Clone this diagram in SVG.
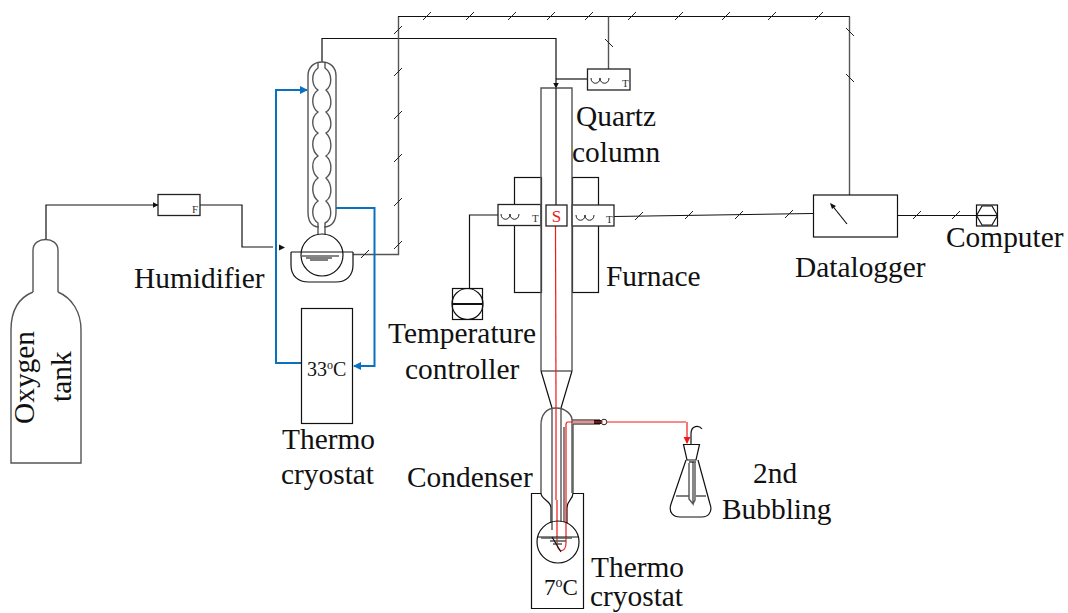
<svg xmlns="http://www.w3.org/2000/svg" width="1068" height="613" viewBox="0 0 1068 613">
<style>
text{font-family:"Liberation Serif","Times New Roman",serif;fill:#111}
.l{font-size:29.400px}
.s{font-size:11px;fill:#333}
.m{font-size:20px}
.k{fill:none;stroke:#111;stroke-width:1.2}
.g{fill:none;stroke:#555;stroke-width:1.4}
.b{fill:none;stroke:#0a70c0;stroke-width:2}
.r{fill:none;stroke:#f01818;stroke-width:1.2}
.t{stroke:#222;stroke-width:1;fill:none}
.w{fill:#fff;stroke:#222;stroke-width:1.3}
</style>
<defs>
<marker id="ab" viewBox="0 0 6 6" refX="5.500" refY="3" markerWidth="6" markerHeight="6" orient="auto" markerUnits="userSpaceOnUse"><path d="M0 0L6 3L0 6z" fill="#111"/></marker>
<marker id="abl" viewBox="0 0 8 8" refX="7" refY="4" markerWidth="8" markerHeight="9" orient="auto" markerUnits="userSpaceOnUse"><path d="M0 0L8 4L0 8z" fill="#0a70c0"/></marker>
<marker id="ar" viewBox="0 0 8 8" refX="7" refY="4" markerWidth="7" markerHeight="8" orient="auto" markerUnits="userSpaceOnUse"><path d="M0 0L8 4L0 8z" fill="#f01818"/></marker>
<path id="tick" d="M-4 4L4 -4" class="t"/>
<path id="btick" d="M-4 -4L4 4" class="t"/>
<path id="coil" d="M-9 -1c0 7 9 7 9 0c0 7 9 7 9 0" fill="none" stroke="#222" stroke-width="1"/>
</defs>

<g id="connectors">
<path class="k" d="M46 239V205H158" marker-end="url(#ab)"/>
<path class="k" d="M200 205H242V247H273"/>
<path d="M279 244.500L285 247.500L279 250.500z" fill="#111"/>
<path class="k" d="M322 62V38.500H556V88" marker-end="url(#ab)"/>
<path class="k" d="M556 79H587"/>
<path class="g" d="M353 254.500H398.500V16.500"/>
<path class="k" d="M398 16.500H850"/>
<path class="g" d="M849.500 16.500V195"/>
<path class="g" d="M608.500 16.500V69"/>
<path class="k" d="M614 216.500L813 213.500"/>
<path class="k" d="M897 215.500H976"/>
<path class="k" d="M498 215H469.500V288"/>
<path class="b" d="M301 363H276V90H307" marker-end="url(#abl)"/>
<path class="b" d="M336 208H374.500V366H354" marker-end="url(#abl)"/>
<g>
<use href="#tick" x="365" y="254"/><use href="#tick" x="398" y="245"/><use href="#tick" x="398" y="202"/><use href="#tick" x="398" y="158"/><use href="#tick" x="398" y="115"/><use href="#tick" x="398" y="72"/><use href="#tick" x="398" y="30"/>
<use href="#tick" x="427" y="16"/><use href="#tick" x="470" y="16"/><use href="#tick" x="512" y="16"/><use href="#tick" x="551" y="16"/><use href="#tick" x="589" y="16"/><use href="#tick" x="632" y="16"/><use href="#tick" x="679" y="16"/><use href="#tick" x="726" y="16"/><use href="#tick" x="772" y="16"/><use href="#tick" x="819" y="16"/>
<use href="#btick" x="850" y="32"/><use href="#btick" x="850" y="78"/>
<use href="#btick" x="609" y="43"/>
<use href="#tick" x="639" y="216"/><use href="#tick" x="689" y="215"/><use href="#tick" x="739" y="215"/><use href="#tick" x="789" y="214"/>
<use href="#tick" x="917" y="215"/><use href="#tick" x="956" y="215"/>
</g>
</g>

<g id="oxygen-tank">
<path class="g" d="M33 292V250C33 236 58 236 58 250V292M33 292C18 298 11 312 11 330V463H81V330C81 312 72 298 58 292"/>
<text class="l" transform="translate(34 424) rotate(-90)">Oxygen</text>
<text class="l" transform="translate(71 402) rotate(-90)">tank</text>
</g>

<g id="flowmeter">
<rect class="w" x="158" y="194.500" width="42" height="21"/>
<text class="s" x="192" y="213">F</text>
</g>

<g id="humidifier">
<path class="g" d="M318 226V227C310 226 308 220 308 212V76C308 67 314 62 322 62C330 62 336 67 336 76V212C336 220 333 226 325 227V226"/>
<path class="g" d="M318 62V68C310 74 312 86 318 90C310 96 312 108 318 112C310 118 312 129 318 133C310 139 312 151 318 156C310 161 312 173 318 178C310 184 312 196 318 201C310 207 312 219 318 223V235"/>
<path class="g" d="M325 62V68C333 74 332 86 326 90C332 96 333 108 326 112C332 118 333 129 326 133C332 139 333 151 326 156C332 161 333 173 326 178C332 184 333 196 326 201C332 207 333 219 325 223V235"/>
<circle class="k" cx="322" cy="255" r="21"/>
<path class="k" d="M291 252H353M291 252V265C291 276 298 282 309 282H336C346 282 353 276 353 265V252"/>
<path class="k" d="M302 256H339"/>
<path class="g" d="M306 258H332M310 260H328"/>
<text class="l" x="134" y="288">Humidifier</text>
</g>

<g id="thermo-cryostat-33">
<rect class="k" x="301.500" y="308.500" width="51" height="115"/>
<text class="m" x="307" y="376">33<tspan font-size="12" dy="-7">o</tspan><tspan dy="7">C</tspan></text>
<text class="l" x="282" y="449">Thermo</text>
<text class="l" x="281" y="484">cryostat</text>
</g>

<g id="furnace">
<rect class="k" x="514.500" y="177.500" width="27" height="115"/>
<rect class="k" x="572.500" y="177.500" width="26" height="115"/>
<text class="l" x="606" y="286">Furnace</text>
</g>

<g id="heater-left">
<rect class="w" x="498" y="204.500" width="43" height="21"/>
<use href="#coil" x="510" y="215"/>
<text class="s" x="532" y="222">T</text>
</g>
<g id="heater-right">
<rect class="w" x="572" y="205" width="42" height="21"/>
<use href="#coil" x="585" y="216"/>
<text class="s" x="606" y="223">T</text>
</g>

<g id="quartz-column">
<path class="g" d="M541 371V88H572V371"/>
<path class="g" d="M541 371H572"/>
<path class="k" d="M541 371L552 408M572 371L561 408"/>
<path class="k" d="M556 88V205"/>
<path class="r" d="M555.500 226L556 400"/>
<text class="l" x="576" y="126">Quartz</text>
<text class="l" x="572" y="162">column</text>
</g>

<g id="sample">
<rect class="w" x="546" y="205" width="21" height="21"/>
<text x="556.500" y="222" text-anchor="middle" font-size="17" style="fill:#f01818">S</text>
</g>

<g id="top-thermocouple">
<rect class="w" x="587.500" y="69" width="42.500" height="21"/>
<use href="#coil" x="600" y="79"/>
<text class="s" x="622" y="87">T</text>
</g>

<g id="temperature-controller">
<rect class="k" x="452.500" y="288.500" width="30" height="31"/>
<circle class="k" cx="467.500" cy="304" r="15.500"/>
<path d="M452 304H483" stroke="#111" stroke-width="2"/>
<text class="l" x="388" y="343">Temperature</text>
<text class="l" x="405" y="379">controller</text>
</g>

<g id="datalogger">
<rect class="k" x="813.500" y="195" width="84" height="42"/>
<path class="k" d="M847 224L831 204"/>
<path d="M830 203L836 206L832 209z" fill="#111"/>
<text class="l" x="795" y="277">Datalogger</text>
</g>

<g id="computer">
<rect class="k" x="976.500" y="205" width="21" height="21"/>
<path class="k" d="M976.500 215.500L982 206H992L997.500 215.500L992 225H982z"/>
<path d="M976 215.500H998" stroke="#111" stroke-width="1.200"/>
<text class="l" x="946" y="247">Computer</text>
</g>

<g id="condenser">
<path class="g" d="M541 493V425C541 415 546 408 556 408C566 408 572 415 572 420V493"/>
<path class="k" d="M541 493C541 500 551 500 551 508V523M573 493C573 500 567 500 567 508V523"/>
<path class="g" d="M552 408V530M561 408V522"/>
<path class="g" d="M572 420H600M573 424H600M564 427V522M573 424V493"/>
<path d="M594 420H601V424H594z" fill="#111"/>
<circle cx="604" cy="422" r="2.800" fill="#fff" stroke="#222" stroke-width="1"/>
<path class="r" d="M556 400V500"/>
<path class="r" d="M686 422H606M603 422H568Q566 422 566 425V543C566 553 557 553 557 543V500"/>
<text class="l" x="407" y="487">Condenser</text>
</g>

<g id="thermo-cryostat-7">
<path class="k" d="M541 493.500H531.500V608.500H583.500V493.500H573"/>
<circle class="k" cx="558" cy="542" r="21"/>
<path class="k" d="M537 537H579"/>
<path class="g" d="M541 538H572M550 541H566M553 544H562"/>
<path class="k" d="M552 537L561 552"/>
<text class="m" x="544" y="595" style="font-size:23px">7<tspan font-size="14" dy="-8">o</tspan><tspan dy="8">C</tspan></text>
<text class="l" x="591" y="577">Thermo</text>
<text class="l" x="590" y="606">cryostat</text>
</g>

<g id="second-bubbling">
<path class="r" d="M687 422V443" marker-end="url(#ar)"/>
<path class="k" d="M683.500 444.500H699.500L696 460H687zM691 444V434C691 425 699 425 702 429"/>
<path class="k" d="M686 460L671 504C668 513 674 517 680 517H702C708 517 713 512 710 504L698 460"/>
<path class="g" d="M689 463V499L693 504V462M695 463V500L693 504"/>
<path class="k" d="M689 462H696"/>
<path class="g" d="M676 496H689M696 496H706"/>
<text class="l" x="753" y="483">2nd</text>
<text class="l" x="722" y="519">Bubbling</text>
</g>
</svg>
